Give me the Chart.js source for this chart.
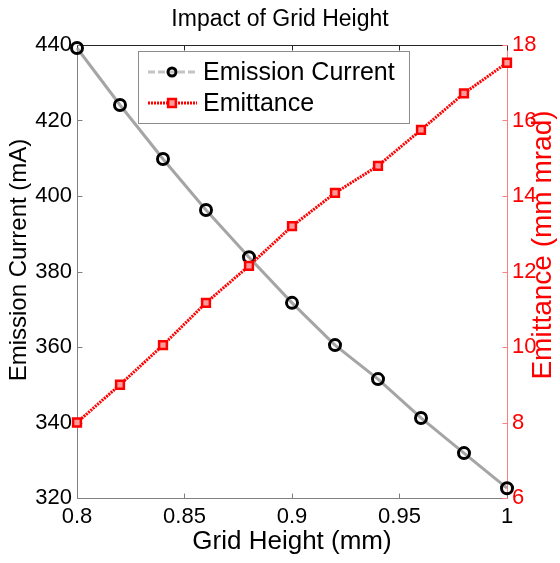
<!DOCTYPE html>
<html>
<head>
<meta charset="utf-8">
<title>Impact of Grid Height</title>
<script src="https://cdn.jsdelivr.net/npm/chart.js@4.4.1/dist/chart.umd.min.js"></script>
<style>
html, body { margin: 0; padding: 0; background: #fff; }
</style>
</head>
<body>
<canvas id="chart" width="560" height="563"></canvas>
<script>
// Data -----------------------------------------------------------------------------------

var gridHeight      = [0.80, 0.82, 0.84, 0.86, 0.88, 0.90, 0.92, 0.94, 0.96, 0.98, 1.00];
var emissionCurrent = [439.2, 424.1, 409.8, 396.3, 383.8, 371.7, 360.5, 351.5, 341.2, 331.9, 322.6];
var emittance       = [8.0, 9.0, 10.05, 11.17, 12.15, 13.2, 14.08, 14.8, 15.75, 16.72, 17.53];

var xTicks         = [0.8, 0.85, 0.9, 0.95, 1.0];
var xTickLabels    = ['0.8', '0.85', '0.9', '0.95', '1'];
var currentTicks   = [320, 340, 360, 380, 400, 420, 440];
var emittanceTicks = [6, 8, 10, 12, 14, 16, 18];

// Constants ------------------------------------------------------------------------------

var FONT = '"Liberation Sans", Arial, Helvetica, sans-serif';
var RED = '#ff0000';
var AXIS_GRAY = '#808080';
var TICK_LEN = 5;

// Helpers --------------------------------------------------------------------------------

function toPoints(xs, ys) {
    return xs.map(function (x, i) { return { x: x, y: ys[i] }; });
}

function fixedTicks(values) {
    return function (scale) {
        scale.ticks = values.map(function (v) { return { value: v }; });
    };
}

function line(ctx, x1, y1, x2, y2, color) {
    ctx.strokeStyle = color;
    ctx.beginPath();
    ctx.moveTo(x1, y1);
    ctx.lineTo(x2, y2);
    ctx.stroke();
}

// MATLAB-like box with inward ticks
var axesBox = {
    id: 'axesBox',
    beforeDatasetsDraw: function (chart) {
        var ctx = chart.ctx;
        var a = chart.chartArea;
        var l = Math.round(a.left) + 0.5, r = Math.round(a.right) + 0.5;
        var t = Math.round(a.top) + 0.5, b = Math.round(a.bottom) + 0.5;
        ctx.save();
        ctx.lineWidth = 1;

        line(ctx, l, t, r, t, '#262626');
        line(ctx, l, b, r, b, AXIS_GRAY);
        line(ctx, l, b, l, t, AXIS_GRAY);
        line(ctx, r, t, r, b, '#ff7f7f');

        var xs = chart.scales.x;
        xs.ticks.forEach(function (tk) {
            var px = Math.round(xs.getPixelForValue(tk.value)) + 0.5;
            line(ctx, px, b, px, b - TICK_LEN, AXIS_GRAY);
            line(ctx, px, t, px, t + TICK_LEN, '#262626');
        });
        var ys = chart.scales.y;
        ys.ticks.forEach(function (tk) {
            var py = Math.round(ys.getPixelForValue(tk.value)) + 0.5;
            line(ctx, l, py, l + TICK_LEN, py, AXIS_GRAY);
        });
        var y2 = chart.scales.y2;
        y2.ticks.forEach(function (tk) {
            var py = Math.round(y2.getPixelForValue(tk.value)) + 0.5;
            line(ctx, r, py, r - TICK_LEN, py, '#ff7f7f');
        });

        // vertical axis titles, both read bottom to top
        ctx.textAlign = 'center';
        ctx.textBaseline = 'middle';
        ctx.translate(19, 260);
        ctx.rotate(-Math.PI / 2);
        ctx.fillStyle = '#000';
        ctx.font = '24px ' + FONT;
        ctx.fillText('Emission Current (mA)', 0, 0);
        ctx.setTransform(1, 0, 0, 1, 0, 0);
        ctx.translate(543, 245);
        ctx.rotate(-Math.PI / 2);
        ctx.fillStyle = RED;
        ctx.font = '28px ' + FONT;
        ctx.fillText('Emittance (mm mrad)', 0, 0);
        ctx.restore();
    }
};

// boxed legend in the upper part of the plot
var boxLegend = {
    id: 'boxLegend',
    afterDatasetsDraw: function (chart) {
        var ctx = chart.ctx;
        var ds = chart.data.datasets;
        var bx = 138.5, by = 51.5, bw = 271, bh = 72;
        var rows = [72, 103];
        ctx.save();
        ctx.fillStyle = '#fff';
        ctx.strokeStyle = '#8c8c8c';
        ctx.lineWidth = 1;
        ctx.fillRect(bx, by, bw, bh);
        ctx.strokeRect(bx, by, bw, bh);

        ds.forEach(function (d, i) {
            var y = rows[i];
            var marker = {
                pointStyle: d.pointStyle,
                radius: d.legendPointRadius,
                borderWidth: d.pointBorderWidth,
                rotation: 0
            };
            ctx.lineWidth = d.borderWidth;
            ctx.setLineDash(d.legendDash);
            line(ctx, 148, y, 197, y, d.legendLineColor);
            ctx.setLineDash([]);
            ctx.fillStyle = d.pointBackgroundColor;
            ctx.strokeStyle = d.pointBorderColor;
            ctx.lineWidth = d.pointBorderWidth;
            Chart.helpers.drawPoint(ctx, marker, 172, y);
            ctx.fillStyle = '#000';
            ctx.font = '25px ' + FONT;
            ctx.textAlign = 'left';
            ctx.textBaseline = 'middle';
            ctx.fillText(d.label, 203, y + 1);
        });
        ctx.restore();
    }
};

// Chart ----------------------------------------------------------------------------------

var context = document.getElementById('chart').getContext('2d');

var chart = new Chart(context, {
    type: 'line',
    data: {
        datasets: [{
            label: 'Emission Current',
            data: toPoints(gridHeight, emissionCurrent),
            yAxisID: 'y',
            order: 1,
            clip: false,
            borderColor: 'rgba(155,155,155,0.9)',
            borderWidth: 3,
            legendLineColor: '#c4c4c4',
            legendDash: [7, 3],
            pointStyle: 'circle',
            pointRadius: 5.5,
            legendPointRadius: 4,
            pointBorderWidth: 3,
            pointBorderColor: '#000',
            pointBackgroundColor: 'rgba(255,255,255,0)',
            tension: 0
        }, {
            label: 'Emittance',
            data: toPoints(gridHeight, emittance),
            yAxisID: 'y2',
            order: 0,
            clip: false,
            borderColor: RED,
            borderWidth: 3,
            borderDash: [2, 1],
            legendLineColor: RED,
            legendDash: [2, 1],
            pointStyle: 'rect',
            pointRadius: 5.5,
            legendPointRadius: 5.5,
            pointBorderWidth: 2.5,
            pointBorderColor: RED,
            pointBackgroundColor: '#ff9a9a',
            tension: 0
        }]
    },
    options: {
        responsive: false,
        animation: false,
        devicePixelRatio: 1,
        layout: { padding: 0 },
        plugins: {
            legend: { display: false },
            tooltip: { enabled: false },
            title: {
                display: true,
                text: 'Impact of Grid Height',
                color: '#000',
                font: { family: FONT, size: 23, weight: 'normal', lineHeight: 1.2 },
                padding: { top: 6, bottom: 11.4 }
            }
        },
        scales: {
            x: {
                type: 'linear',
                min: 0.8,
                max: 1.0,
                afterBuildTicks: fixedTicks(xTicks),
                afterFit: function (s) { s.height = 65; },
                grid: { display: false, drawTicks: false },
                border: { display: false },
                ticks: {
                    color: '#000',
                    padding: 6,
                    maxRotation: 0,
                    font: { family: FONT, size: 22 },
                    callback: function (v, i) { return xTickLabels[i]; }
                },
                title: {
                    display: true,
                    text: 'Grid Height (mm)',
                    color: '#000',
                    font: { family: FONT, size: 26 },
                    padding: { top: 0, bottom: 6 }
                }
            },
            y: {
                type: 'linear',
                position: 'left',
                min: 320,
                max: 440,
                afterBuildTicks: fixedTicks(currentTicks),
                afterFit: function (s) { s.width = 77; },
                grid: { display: false, drawTicks: false },
                border: { display: false },
                ticks: {
                    color: '#000',
                    padding: 5,
                    font: { family: FONT, size: 22 }
                }
            },
            y2: {
                type: 'linear',
                position: 'right',
                min: 6,
                max: 18,
                afterBuildTicks: fixedTicks(emittanceTicks),
                afterFit: function (s) { s.width = 53; },
                grid: { display: false, drawTicks: false },
                border: { display: false },
                ticks: {
                    color: RED,
                    padding: 5,
                    font: { family: FONT, size: 22 }
                }
            }
        }
    },
    plugins: [axesBox, boxLegend]
});
</script>
</body>
</html>
